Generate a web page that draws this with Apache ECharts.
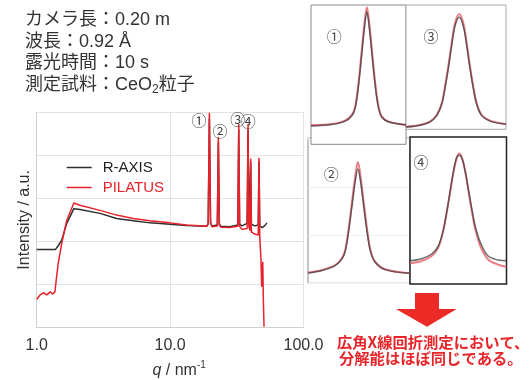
<!DOCTYPE html>
<html>
<head>
<meta charset="utf-8">
<script src="https://cdn.jsdelivr.net/npm/echarts@6/dist/echarts.min.js"></script>
<style>
    html, body { margin: 0; padding: 0; background: #fff; }
    #chart { width: 531px; height: 380px; }
</style>
</head>
<body>
<div id="chart"></div>
<script>
    // main pattern (q / nm^-1, intensity in arbitrary units)
    var rAxisQ = [1.0, 1.38, 1.45, 1.54, 1.68, 1.90, 2.11, 2.98, 3.97, 5.3, 7.07, 10, 13.3, 18.8,
        19.3, 19.7, 20.1, 20.6, 22.6, 23.0, 23.4, 24, 28, 32.2, 32.7, 33.2, 34.5, 37.8, 38.4, 38.9,
        39.7, 40.2, 40.7, 43, 45.8, 46.4, 47.0, 49, 51, 53.3];
    var rAxisI = [1.81, 1.81, 1.90, 2.03, 2.42, 2.76, 2.74, 2.65, 2.53, 2.48, 2.43, 2.40, 2.37, 2.35,
        2.40, 4.85, 2.42, 2.36, 2.38, 4.30, 2.40, 2.35, 2.34, 2.38, 4.60, 2.40, 2.36, 2.42, 4.60, 2.45,
        2.45, 3.85, 2.40, 2.36, 2.38, 3.85, 2.36, 2.32, 2.36, 2.43];
    var pilatusQ = [1.0, 1.06, 1.12, 1.19, 1.26, 1.32, 1.37, 1.40, 1.45, 1.54, 1.68, 1.90, 2.11, 2.98,
        3.97, 5.3, 7.07, 10, 13.3, 18.8, 19.3, 19.7, 20.1, 20.6, 22.6, 23.0, 23.4, 24, 28, 32.2, 32.7,
        33.2, 34.5, 37.8, 38.4, 38.9, 39.7, 40.2, 40.7, 43, 45.8, 46.4, 47.0, 47.6, 48.0, 48.6, 49.5,
        50.0, 50.6];
    var pilatusI = [0.66, 0.76, 0.81, 0.76, 0.83, 0.78, 0.83, 1.10, 1.49, 1.95, 2.49, 2.89, 2.84, 2.72,
        2.61, 2.53, 2.48, 2.43, 2.38, 2.35, 2.42, 4.98, 2.45, 2.34, 2.36, 4.42, 2.38, 2.33, 2.32, 2.35, 4.72,
        2.35, 2.28, 2.30, 4.72, 2.35, 2.25, 3.92, 2.22, 2.17, 2.15, 3.94, 2.12, 2.08, 1.57, 0.95, 1.53,
        0.64, 0.02];
    var peakLabels = ['①', '②', '③', '④'];

    // zoomed peaks, x and y in % of each inset box
    var peak1X = [0, 21.8, 35.9, 43.0, 46.5, 50.0, 53.5, 56.3, 58.8, 61.3, 64.1, 67.6, 71.1, 74.6, 81.7, 100];
    var peak1Red = [13.9, 14.6, 17.0, 21.1, 27.0, 43.8, 67.7, 86.8, 98.3, 86.8, 67.7, 43.8, 27.0, 19.9, 16.3, 13.9];
    var peak1Black = [13.2, 14.2, 16.6, 20.5, 26.0, 42.0, 65.5, 84.0, 95.0, 84.0, 65.5, 42.0, 26.0, 19.4, 16.0, 14.0];

    var peak2X = [0, 13.7, 26.7, 33.2, 36.5, 39.7, 43.0, 46.3, 48.9, 51.5, 54.7, 58.0, 61.2, 65.8, 75.6, 100];
    var peak2Red = [7.4, 9.2, 12.6, 17.2, 23.0, 36.8, 55.2, 73.6, 83.4, 73.6, 55.2, 36.8, 23.0, 14.9, 9.7, 6.9];
    var peak2Black = [7.0, 8.8, 12.2, 16.6, 22.0, 35.0, 52.5, 70.0, 78.6, 70.0, 52.5, 35.0, 22.0, 14.5, 9.4, 6.9];

    var peak3X = [0, 14, 24, 30.7, 35.7, 39, 42.3, 45.7, 49, 53.3, 57.3, 60.7, 64, 67.3, 70.7, 75.7, 84, 100];
    var peak3Red = [2.1, 3.5, 6.2, 11.5, 20.9, 34.3, 50.4, 69.2, 85.3, 92.8, 85.3, 69.2, 50.4, 34.3, 20.9, 11.5, 7.0, 4.3];
    var peak3Black = [1.8, 3.2, 6.0, 11.0, 20.0, 33.0, 49.0, 67.5, 83.0, 90.1, 83.0, 67.5, 49.0, 33.0, 20.0, 11.0, 6.6, 4.0];

    var peak4X = [0, 12.1, 22.4, 29.3, 34.5, 37.9, 41.4, 44.8, 48.3, 51.0, 54.1, 57.6, 61.0, 64.5, 67.9, 73.4, 81.0, 91.4, 100];
    var peak4Red = [14.0, 15.6, 19.0, 24.9, 36.7, 48.0, 61.5, 75.1, 85.3, 88.7, 85.3, 75.1, 61.5, 48.0, 36.7, 24.9, 16.7, 13.1, 11.8];
    var peak4Black = [15.8, 17.2, 20.4, 25.8, 36.5, 48.5, 62.5, 76.0, 86.0, 87.6, 85.0, 75.5, 62.5, 49.5, 38.5, 27.5, 19.0, 16.3, 15.8];

    var RED = '#e8222b';
    var BLACK = '#2e2e2e';
    var TXT = '#333';
    var SANS = "'Liberation Sans', 'Noto Sans CJK JP', sans-serif";
    var JP = "'Noto Sans CJK JP', 'Liberation Sans', sans-serif";

    function pairs(xs, ys) {
        return xs.map(function (x, i) { return [x, ys[i]]; });
    }

    var chart = echarts.init(document.getElementById('chart'));

    // inset boxes: [left, top, width, height, border, z]
    var insetBoxes = [
        [311, 5, 95, 139.3, '#8a8a8a', 1],
        [308, 138, 102, 145.3, '#8a8a8a', 0],
        [406, 5, 100, 124.3, '#a8a8a8', 1],
        [410, 137, 96.5, 147, '#222', 1]
    ];
    var insetData = [
        [peak1X, peak1Red, peak1Black],
        [peak2X, peak2Red, peak2Black],
        [peak3X, peak3Red, peak3Black],
        [peak4X, peak4Red, peak4Black]
    ];

    var grids = [{
        left: 36.7, right: 227.5, top: 112, bottom: 52.3, z: 0,
        containLabel: false, outerBoundsMode: 'none'
    }];
    var xAxes = [{
        type: 'log', logBase: 10, min: 1, max: 100, gridIndex: 0,
        name: '{i|q} / nm{sup|-1}',
        nameLocation: 'middle', nameGap: 33,
        nameTextStyle: {
            color: TXT, fontSize: 16, fontFamily: SANS, padding: [0, 0, 0, 18],
            rich: {
                i: { fontStyle: 'italic', fontSize: 16, color: TXT, fontFamily: SANS },
                sup: { fontSize: 10, color: TXT, fontFamily: SANS, padding: [0, 0, 9, 0] }
            }
        },
        axisLine: { show: true, lineStyle: { color: '#d0d0d0', width: 1 } },
        axisTick: { show: false },
        axisLabel: {
            color: TXT, fontSize: 16, fontFamily: SANS, margin: 10,
            formatter: function (v) { return v.toFixed(1); }
        },
        splitLine: { show: true, lineStyle: { color: '#e3e3e3', width: 1 } },
        minorSplitLine: { show: false }
    }];
    var yAxes = [{
        type: 'value', min: 0, max: 5, interval: 1, gridIndex: 0,
        name: 'Intensity / a.u.',
        nameLocation: 'middle', nameGap: 4,
        nameTextStyle: { color: TXT, fontSize: 16, fontFamily: SANS },
        axisLine: { show: true, lineStyle: { color: '#d0d0d0', width: 1 } },
        axisTick: { show: false },
        axisLabel: { show: false },
        splitLine: { show: true, lineStyle: { color: '#e3e3e3', width: 1 } }
    }];
    var series = [
        {
            name: 'R-AXIS', type: 'line', xAxisIndex: 0, yAxisIndex: 0,
            data: pairs(rAxisQ, rAxisI), symbol: 'none', z: 3,
            lineStyle: { color: BLACK, width: 1.5 }, itemStyle: { color: BLACK }
        },
        {
            name: 'PILATUS', type: 'line', xAxisIndex: 0, yAxisIndex: 0,
            data: pairs(pilatusQ, pilatusI), symbol: 'none', z: 4,
            lineStyle: { color: RED, width: 1.5 }, itemStyle: { color: RED }
        }
    ];

    insetBoxes.forEach(function (b, k) {
        var g = k + 1;
        grids.push({
            left: b[0], top: b[1], width: b[2], height: b[3], show: true,
            backgroundColor: '#fff', borderColor: b[4], borderWidth: k === 3 ? 1.5 : 1, z: b[5],
            containLabel: false, outerBoundsMode: 'none'
        });
        xAxes.push({
            type: 'value', min: 0, max: 100, gridIndex: g, show: false
        });
        yAxes.push({
            type: 'value', min: 0, max: 100, interval: 33, gridIndex: g,
            axisLine: { show: false }, axisTick: { show: false }, axisLabel: { show: false },
            splitLine: { show: true, lineStyle: { color: '#f0f0f0' } }
        });
        var d = insetData[k];
        series.push({
            name: 'red' + g, type: 'line', xAxisIndex: g, yAxisIndex: g, z: 5,
            data: pairs(d[0], d[1]), symbol: 'none', smooth: 0.35,
            lineStyle: { color: 'rgba(226,70,84,0.7)', width: 2 }
        });
        series.push({
            name: 'black' + g, type: 'line', xAxisIndex: g, yAxisIndex: g, z: 6,
            data: pairs(d[0], d[2]), symbol: 'none', smooth: 0.35,
            lineStyle: { color: 'rgba(60,60,60,0.75)', width: 1.5 }
        });
    });

    function txt(x, y, text, size, color, font, extra) {
        var s = {
            text: text, x: x, y: y, fontSize: size, fontFamily: font,
            fill: color, verticalAlign: 'middle'
        };
        if (extra) { for (var key in extra) s[key] = extra[key]; }
        return { type: 'text', z: 10, style: s };
    }

    var graphics = [
        txt(25, 20, 'カメラ長：0.20 m', 18, TXT, SANS),
        txt(25, 41.7, '波長：0.92 Å', 18, TXT, SANS),
        txt(25, 63.3, '露光時間：10 s', 18, TXT, SANS),
        txt(25, 85, '{t|測定試料：CeO}{s|2}{t|粒子}', 18, TXT, SANS, {
            rich: {
                t: { fontSize: 18, fontFamily: SANS, fill: TXT },
                s: { fontSize: 12, fontFamily: SANS, fill: TXT, padding: [9, 0, 0, 0] }
            }
        }),
        // peak markers in the main plot
        txt(199, 120.7, peakLabels[0], 15, '#444', JP, { align: 'center' }),
        txt(220, 131, peakLabels[1], 15, '#444', JP, { align: 'center' }),
        txt(237.7, 119, peakLabels[2], 15, '#444', JP, { align: 'center' }),
        txt(248.3, 121.7, peakLabels[3], 15, '#444', JP, { align: 'center' }),
        // inset markers
        txt(334.3, 36.7, peakLabels[0], 15, '#444', JP, { align: 'center' }),
        txt(331.3, 174, peakLabels[1], 15, '#444', JP, { align: 'center' }),
        txt(431, 36.7, peakLabels[2], 15, '#444', JP, { align: 'center' }),
        txt(421, 162.7, peakLabels[3], 15, '#444', JP, { align: 'center' }),
        {
            type: 'polygon', z: 10,
            shape: { points: [[415, 293], [439, 293], [439, 309], [456.7, 309], [427, 326.7], [396, 309], [415, 309]] },
            style: { fill: '#ec2a26' }
        },
        txt(337, 341.7, '広角X線回折測定において、', 15.3, '#e8262a', JP, { fontWeight: 'bold' }),
        txt(339, 358, '分解能はほぼ同じである。', 15.3, '#e8262a', JP, { fontWeight: 'bold' })
    ];

    chart.setOption({
        animation: false,
        backgroundColor: '#fff',
        grid: grids,
        xAxis: xAxes,
        yAxis: yAxes,
        legend: {
            data: [
                { name: 'R-AXIS', icon: 'rect', textStyle: { color: '#222' } },
                { name: 'PILATUS', icon: 'rect', textStyle: { color: RED } }
            ],
            orient: 'vertical', left: 66.7, top: 159, padding: 0,
            itemWidth: 25, itemHeight: 1.5, itemGap: 3,
            selectedMode: false,
            textStyle: { fontSize: 15, fontFamily: SANS, padding: [0, 0, 0, 6], lineHeight: 17 }
        },
        series: series,
        graphic: graphics
    });
</script>
</body>
</html>
